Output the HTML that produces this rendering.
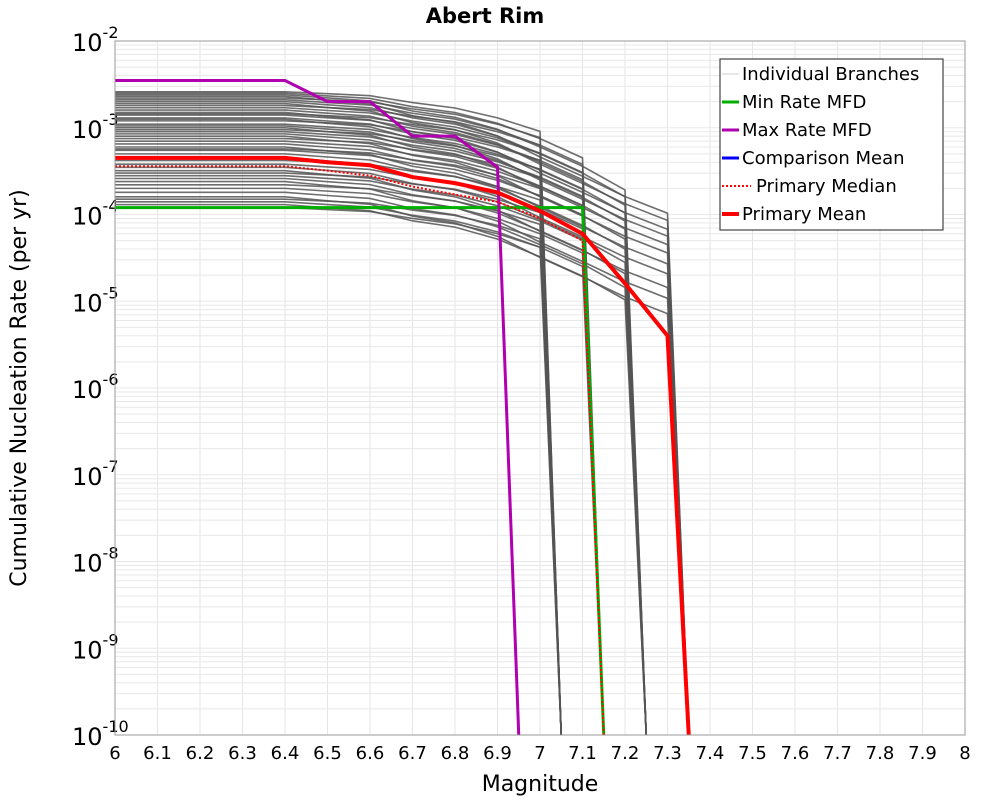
<!DOCTYPE html>
<html><head><meta charset="utf-8"><style>
body{margin:0;background:#fff}
svg{font-family:"DejaVu Sans","Liberation Sans",sans-serif}
</style></head><body>
<svg id="chart" width="1000" height="800" xmlns="http://www.w3.org/2000/svg">
<rect width="1000" height="800" fill="#fff"/>
<text x="485" y="23" font-size="21" font-weight="bold" text-anchor="middle">Abert Rim</text>
<g id="grid"></g>
<g id="xticks"></g>
<g id="yticks"></g>
<g id="branches"></g>
<g id="series"></g>
<rect x="115" y="41" width="850" height="694" fill="none" stroke="#999" stroke-width="1"/>
<text x="540" y="791" font-size="22" text-anchor="middle">Magnitude</text>
<text transform="translate(26,388) rotate(-90)" font-size="22" text-anchor="middle">Cumulative Nucleation Rate (per yr)</text>
<g>
<rect x="720" y="59" width="223" height="171" fill="#fff" stroke="#444" stroke-width="1.2"/>
<g font-size="18">
<line x1="722" y1="74" x2="739" y2="74" stroke="#ccc" stroke-width="1"/><text x="742" y="80">Individual Branches</text>
<line x1="722" y1="102" x2="739" y2="102" stroke="#00b000" stroke-width="3"/><text x="742" y="108">Min Rate MFD</text>
<line x1="722" y1="130" x2="739" y2="130" stroke="#b000b0" stroke-width="3"/><text x="742" y="136">Max Rate MFD</text>
<line x1="722" y1="158" x2="739" y2="158" stroke="#0000ff" stroke-width="3"/><text x="742" y="164">Comparison Mean</text>
<line x1="722" y1="186" x2="751" y2="186" stroke="#f00" stroke-width="2" stroke-dasharray="2,2"/><text x="756" y="192">Primary Median</text>
<line x1="722" y1="214" x2="739" y2="214" stroke="#f00" stroke-width="4"/><text x="742" y="220">Primary Mean</text>
</g></g>
</svg>
<script>
const xTicks=[6,6.1,6.2,6.3,6.4,6.5,6.6,6.7,6.8,6.9,7,7.1,7.2,7.3,7.4,7.5,7.6,7.7,7.8,7.9,8];
const yExps=[-2,-3,-4,-5,-6,-7,-8,-9,-10];
const mags=[6,6.1,6.2,6.3,6.4,6.5,6.6,6.7,6.8,6.9,7,7.1,7.2,7.3];
const meanRates=[4.5e-4,4.5e-4,4.5e-4,4.5e-4,4.5e-4,4e-4,3.7e-4,2.7e-4,2.3e-4,1.8e-4,1.1e-4,6e-5,1.6e-5,4e-6];
const medianRates=[3.6e-4,3.6e-4,3.6e-4,3.6e-4,3.6e-4,3.2e-4,2.8e-4,2.1e-4,1.7e-4,1.4e-4,9e-5,5e-5];
const minRates=[1.2e-4,1.2e-4,1.2e-4,1.2e-4,1.2e-4,1.2e-4,1.2e-4,1.2e-4,1.2e-4,1.2e-4,1.2e-4,1.2e-4];
const maxRates=[3.5e-3,3.5e-3,3.5e-3,3.5e-3,3.5e-3,2e-3,2e-3,8e-4,8e-4,3.5e-4];
const branchBase=[2.6e-3,2.5e-3,2.4e-3,2.3e-3,2.2e-3,2.1e-3,2e-3,1.9e-3,1.8e-3,1.7e-3,1.6e-3,1.5e-3,1.45e-3,1.4e-3,1.3e-3,1.25e-3,1.2e-3,1.1e-3,1.05e-3,1e-3,9.5e-4,9e-4,8.5e-4,8e-4,7.5e-4,7e-4,6.5e-4,6e-4,5.7e-4,5.5e-4,5e-4,4.6e-4,4.2e-4,3.8e-4,3.5e-4,3.2e-4,3e-4,2.8e-4,2.6e-4,2.4e-4,2.2e-4,2e-4,1.8e-4,1.6e-4,1.5e-4,1.4e-4,1.3e-4,1.2e-4];
const branchMmax=[7.0,7.1,7.2,7.3,7.0,7.1,7.2,7.3,7.0,7.1,7.2,7.3,7.0,7.1,7.2,7.3,7.0,7.1,7.2,7.3,7.0,7.1,7.2,7.3,7.0,7.1,7.2,7.3,7.0,7.1,7.2,7.3,7.0,7.1,7.2,7.3,7.0,7.1,7.2,7.3,7.0,7.1,7.2,7.3,7.0,7.1,7.2,7.0];
const shape70=[1,1,1,1,1,0.95,0.9,0.75,0.65,0.5,0.35];
const shape71=[1,1,1,1,1,0.93,0.87,0.7,0.6,0.45,0.3,0.18];
const shape72=[1,1,1,1,1,0.92,0.85,0.65,0.55,0.4,0.25,0.15,0.08];
const shape73=[1,1,1,1,1,0.9,0.82,0.6,0.5,0.35,0.2,0.12,0.07,0.045];
const shapes={"7":shape70,"7.1":shape71,"7.2":shape72,"7.3":shape73};
const X=m=>115+(m-6)*425, Y=v=>41+(-2-Math.log10(v))*86.75;
const NS="http://www.w3.org/2000/svg";
function mk(t,a,p){const e=document.createElementNS(NS,t);for(const k in a)e.setAttribute(k,a[k]);p.appendChild(e);return e;}
const grid=document.getElementById('grid');
xTicks.forEach(m=>{const l=mk('line',{x1:X(m),x2:X(m),y1:41,y2:735,stroke:'#e6e6e6','stroke-width':1},grid);});
for(let e=-10;e<-2;e++)for(let k=1;k<10;k++){const l=mk('line',{x1:115,x2:965,y1:Y(k*Math.pow(10,e)),y2:Y(k*Math.pow(10,e)),stroke:'#e8e8e8','stroke-width':1},grid);}
const xt=document.getElementById('xticks');
xTicks.forEach(t=>{const e=mk('text',{x:X(t),y:759,'font-size':18,'text-anchor':'middle'},xt);e.textContent=String(t);});
const yt=document.getElementById('yticks');
yExps.forEach(p=>{const e=mk('text',{x:72,y:Y(Math.pow(10,p))+10,'font-size':24},yt);
 e.innerHTML='10<tspan dy="-13" font-size="16">'+p+'</tspan>';});
function path(rates,endM,attrs,parent,name){
 const pts=rates.map((r,i)=>[X(mags[i]),Y(r)]);
 pts.push([X(endM+0.05),Y(1e-10)]);
 const e=mk('polyline',Object.assign({points:pts.map(p=>p.join(',')).join(' '),fill:'none'},attrs),parent);
 return e;}
const bg=document.getElementById('branches');
const clip=mk('clipPath',{id:'pc'},document.getElementById('chart'));mk('rect',{x:115,y:41,width:850,height:694},clip);
bg.setAttribute('clip-path','url(#pc)');
branchBase.forEach((b,i)=>{const mm=branchMmax[i];const sh=shapes[String(mm)];
 path(sh.map(s=>b*s),mm,{stroke:'#555','stroke-width':1.6,'stroke-opacity':0.85},bg,'branch-line');});
const sg=document.getElementById('series');sg.setAttribute('clip-path','url(#pc)');
path(minRates,7.1,{stroke:'#00b000','stroke-width':3},sg,'min-rate-line');
path(maxRates,6.9,{stroke:'#b000b0','stroke-width':3},sg,'max-rate-line');
path(medianRates,7.1,{stroke:'#f00','stroke-width':2,'stroke-dasharray':'2,2'},sg,'median-line');
path(meanRates,7.3,{stroke:'#f00','stroke-width':4},sg,'mean-line');
</script>
</body></html>
